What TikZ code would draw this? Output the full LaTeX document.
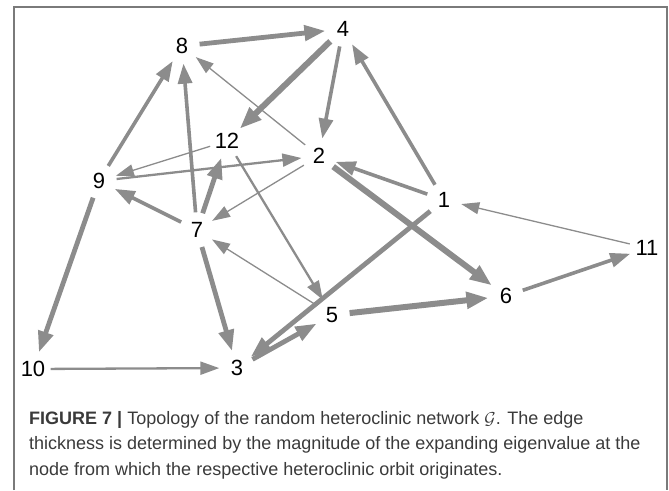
\documentclass[tikz,border=0pt]{standalone}
\usepackage{fontspec}
\setmainfont{Liberation Sans}
\usepackage{tikz}
\usetikzlibrary{arrows.meta}
\definecolor{edgegray}{HTML}{8C8C8C}
\definecolor{framegray}{HTML}{7A7A7A}
\definecolor{captiontext}{HTML}{3A3A3A}

\begin{document}
\begin{tikzpicture}[
  x=1pt,
  y=-1pt,
  vertex/.style={
    circle,
    inner sep=0pt,
    minimum size=35pt,
    font=\fontsize{22}{22}\selectfont,
    text=black
  },
  orbit/.style={
    draw=edgegray,
    -{Triangle[length=20pt,width=14pt]}
  },
  orbitthin/.style={
    orbit,
    line width=1.3pt,
    -{Triangle[length=18pt,width=12pt]}
  },
  orbitlight/.style={
    orbit,
    line width=2.3pt,
    -{Triangle[length=19pt,width=13pt]}
  },
  orbitmid/.style={
    orbit,
    line width=3.6pt
  },
  orbitwide/.style={
    orbit,
    line width=4.8pt,
    -{Triangle[length=21pt,width=15pt]}
  },
  orbitheavy/.style={
    orbit,
    line width=6pt,
    -{Triangle[length=22pt,width=16pt]}
  },
  caption/.style={
    anchor=base west,
    inner sep=0pt,
    font=\fontsize{18}{25}\selectfont,
    text=captiontext
  }
]

\useasboundingbox (0,0) rectangle (669,490);

% open frame round figure and caption
\draw[framegray, line width=2pt] (14,490) -- (14,7) -- (667,7) -- (667,490);

% vertices of the network
\node[vertex] (n4)  at (343,29)  {4};
\node[vertex] (n8)  at (182,46)  {8};
\node[vertex] (n12) at (227,141) {12};
\node[vertex] (n2)  at (319,156) {2};
\node[vertex] (n9)  at (99,181)  {9};
\node[vertex] (n1)  at (444,200) {1};
\node[vertex] (n7)  at (197,230) {7};
\node[vertex] (n11) at (647,248) {11};
\node[vertex] (n6)  at (506,296) {6};
\node[vertex] (n5)  at (332,315) {5};
\node[vertex] (n10) at (33,369)  {10};
\node[vertex] (n3)  at (237,368) {3};

% heteroclinic orbits
\draw[orbitwide]  (n8) -- (n4);
\draw[orbitheavy] (n4) -- (n12);
\draw[orbitmid]   (n4) -- (n2);
\draw[orbitmid]   (n1) -- (n4);
\draw[orbitthin]  (n2) -- (n8);
\draw[orbitmid]   (n9) -- (n8);
\draw[orbitmid]   (n7) -- (n8);
\draw[orbitwide]  (n7) -- (n12);
\draw[orbitthin]  (n12) -- (n9);
\draw[orbitlight] (n9) -- (n2);
\draw[orbitthin]  (n2) -- (n7);
\draw[orbitmid]   (n7) -- (n9);
\draw[orbitlight] (n12) -- (n5);
\draw[orbitmid]   (n1) -- (n2);
\draw[orbitheavy] (n2) -- (n6);
\draw[orbitwide]  (n1) -- (n3);
\draw[orbitthin]  (n11) -- (n1);
\draw[orbitmid]   (n6) -- (n11);
\draw[orbitthin]  (n5) -- (n7);
\draw[orbitheavy] (n5) -- (n6);
\draw[orbitwide]  (n7) -- (n3);
\draw[orbitwide]  (n3) -- (n5);
\draw[orbitwide]  (n9) -- (n10);
\draw[orbitlight] (n10) -- (n3);

% caption
\node[caption] (caprow1) at (29,424)
  {\textbf{FIGURE 7 |} Topology of the random heteroclinic network $\mathcal{G}$. The edge};
\node[caption] (caprow2) at (29,449.5)
  {thickness is determined by the magnitude of the expanding eigenvalue at the};
\node[caption] (caprow3) at (29,475)
  {node from which the respective heteroclinic orbit originates.};

\end{tikzpicture}
\end{document}
